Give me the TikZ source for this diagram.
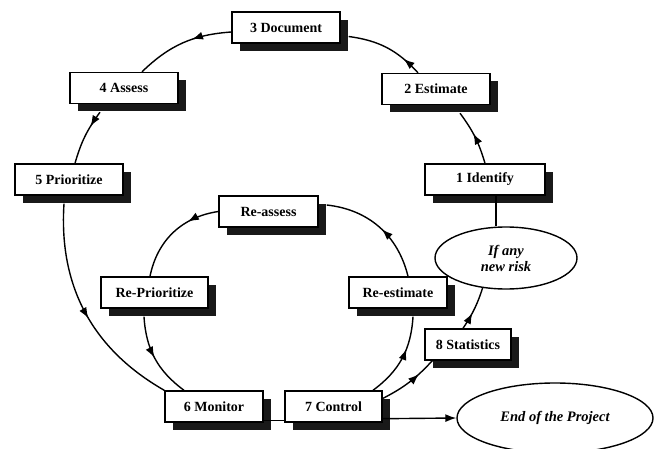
\documentclass[tikz,border=0pt]{standalone}
\usepackage{fontspec}
\setmainfont{Liberation Serif}
\usetikzlibrary{arrows.meta,decorations.markings,shadows,shapes.geometric}

\begin{document}
\begin{tikzpicture}[x=1pt,y=1pt,
    box/.style={draw, line width=1.4pt, fill=white, inner sep=0pt,
        minimum height=31pt, font=\fontsize{14}{16}\selectfont\bfseries,
        drop shadow={shadow xshift=8pt, shadow yshift=-8pt, fill=black!90, opacity=1}},
    oval/.style={draw, line width=1.4pt, ellipse, inner sep=0pt, align=center,
        font=\fontsize{14.5}{16}\selectfont\bfseries\itshape},
    flow/.style={line width=1.4pt, postaction={decorate},
        decoration={markings, mark=at position #1 with {\arrow{Latex[length=11pt,width=8pt]}}}},
    flow/.default=0.5,
    link/.style={line width=1.4pt}]
    \useasboundingbox (0,0) rectangle (656,448);

    % Steps of the cycle
    \foreach \n/\x/\y/\w/\lbl in {doc/286/420.5/108/3 Document, assess/124/360/108/4 Assess,
        estimate/436/359/108/2 Estimate, prior/69/268.5/108/5 Prioritize,
        identify/485/268.5/120/1 Identify, reassess/268.5/236.5/99/Re-assess,
        reprior/154.5/155.5/107/Re-Prioritize, reest/398/155.5/98/Re-estimate,
        stats/468/103.5/86/8 Statistics, monitor/214/41.5/98/6 Monitor,
        control/333.5/41.5/97/7 Control} {
        \node[box, minimum width=\w pt] (\n) at (\x,\y) {\lbl};
    }
    \node[oval, minimum width=142pt, minimum height=62pt] (newrisk) at (506,190) {If any\\new risk};
    \node[oval, minimum width=196pt, minimum height=70pt] (endproj) at (555,30) {End of the Project};

    % Outer cycle
    \draw[flow=0.57] (identify.north) to[bend right=10] ([xshift=24pt,yshift=-8pt]estimate.south);
    \draw[flow=0.25] ([xshift=-18pt]estimate.north) to[bend right=20] ([xshift=8pt,yshift=-9pt]doc.east);
    \draw[flow=0.4] ([yshift=-4.5pt]doc.west) to[bend right=20] ([xshift=18pt]assess.north);
    \draw[flow=0.3] ([xshift=-24pt,yshift=-8pt]assess.south) to[bend right=10] ([xshift=6pt]prior.north);
    \draw[flow=0.53] ([xshift=-5pt,yshift=-8pt]prior.south) to[bend right=32] (monitor.north west);

    % Inner cycle
    \draw[flow=0.62] ([xshift=39.5pt]control.north) to[bend right=25] ([xshift=15pt,yshift=-8pt]reest.south);
    \draw[flow=0.47] ([xshift=10pt]reest.north) to[bend right=35] ([xshift=8pt,yshift=6.5pt]reassess.east);
    \draw[flow=0.32] (reassess.west) to[bend right=35] ([xshift=-4.5pt]reprior.north);
    \draw[flow=0.49] ([xshift=-10.5pt,yshift=-8pt]reprior.south) to[bend right=25] ([xshift=-30pt]monitor.north);

    % New risks
    \draw[flow=0.7] ([yshift=8pt]control.east) to[bend right=10] ([xshift=8pt]stats.south west);
    \draw[flow=0.4] ([xshift=-5pt]stats.north) to[bend right=8] (newrisk.232);
    \coordinate (riskin) at ([xshift=11pt]identify.south);
    \draw[link] (riskin) -- (riskin |- newrisk.north);

    % End of the project
    \draw[link] ([yshift=2pt]monitor.south east) -- ([yshift=2pt]control.south west);
    \draw[link, -{Latex[length=11pt,width=8pt]}] ([yshift=4pt]control.south east) -- (endproj.west);
\end{tikzpicture}
\end{document}
